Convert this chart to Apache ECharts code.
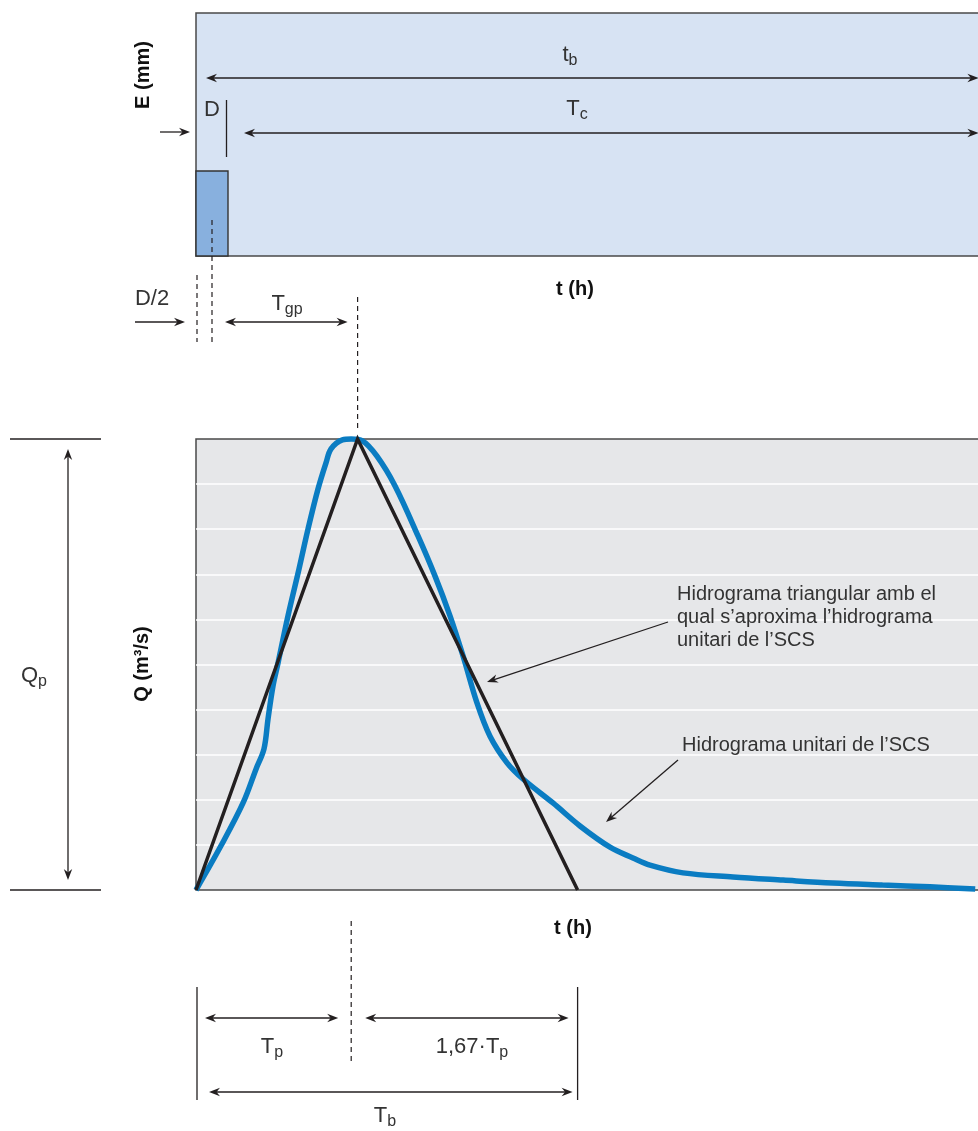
<!DOCTYPE html>
<html>
<head>
<meta charset="utf-8">
<script src="https://cdn.jsdelivr.net/npm/echarts@6/dist/echarts.min.js"></script>
<style>
  html, body { margin: 0; padding: 0; background: #ffffff; }
  #chart { width: 978px; height: 1131px; }
</style>
</head>
<body>
<div id="chart"></div>
<script>
// Hidrograma unitari de l'SCS i hidrograma triangular equivalent.
// Temps en unitats de Tp; cabal i precipitació en escala relativa (0-10).

// Hidrograma unitari adimensional de l'SCS
const scsT = [0, 0.156, 0.294, 0.375, 0.425, 0.45, 0.481, 0.5125, 0.575, 0.644, 0.70, 0.7625, 0.8125, 0.844, 0.915, 0.97,
              1.04, 1.131, 1.244, 1.3875, 1.494, 1.5875, 1.669, 1.756, 1.8375, 1.944, 2.044, 2.231, 2.40, 2.5875,
              2.731, 2.8375, 3.044, 3.356, 3.67, 3.98, 4.29, 4.5875, 4.87];
const scsQ = [0, 0.98, 1.93, 2.68, 3.13, 3.79, 4.52, 5.03, 6.08, 7.12, 8.00, 8.89, 9.47, 9.78, 9.98, 10,
              9.96, 9.62, 8.96, 7.85, 6.96, 6.08, 5.19, 4.15, 3.41, 2.82, 2.46, 1.93, 1.42, 0.95,
              0.71, 0.55, 0.38, 0.29, 0.22, 0.155, 0.11, 0.07, 0.02];

// Hidrograma triangular: inici, punta (Tp, Qp) i final (Tb)
const triT = [0, 1.01, 2.385];
const triQ = [0, 10, 0];

// Bloc de precipitació efectiva de durada D
const rainT = [0, 0.2];
const rainE = [3.5];

// Extrems de les fletxes de temps t_b i T_c
const tbSpan = [0.0625, 4.89];
const tcSpan = [0.3, 4.89];

const INK = '#231f20';
const TXT = '#333333';
const FONT = 'Liberation Sans, Arial, sans-serif';

function head(tip, u) {
  const L = 11, W = 4.2, N = 7.5;
  const px = -u[1], py = u[0];
  return {
    type: 'polygon',
    shape: { points: [
      [tip[0], tip[1]],
      [tip[0] - u[0] * L + px * W, tip[1] - u[1] * L + py * W],
      [tip[0] - u[0] * N, tip[1] - u[1] * N],
      [tip[0] - u[0] * L - px * W, tip[1] - u[1] * L - py * W]
    ] },
    style: { fill: INK }
  };
}
function arrow(p0, p1, both) {
  const dx = p1[0] - p0[0], dy = p1[1] - p0[1];
  const len = Math.hypot(dx, dy);
  const u = [dx / len, dy / len];
  const s = both ? 6 : 0;
  const out = [{
    type: 'line',
    shape: { x1: p0[0] + u[0] * s, y1: p0[1] + u[1] * s, x2: p1[0] - u[0] * 6, y2: p1[1] - u[1] * 6 },
    style: { stroke: INK, lineWidth: 1.3 }
  }, head(p1, u)];
  if (both) out.push(head(p0, [-u[0], -u[1]]));
  return out;
}
function seg(x1, y1, x2, y2, dashed, w) {
  return {
    type: 'line',
    shape: { x1: x1, y1: y1, x2: x2, y2: y2 },
    style: { stroke: INK, lineWidth: w || 1.2, lineDash: dashed ? [5, 4] : null }
  };
}
const rich = {
  m: { fontSize: 22, fontFamily: FONT, fill: TXT, color: TXT },
  s: { fontSize: 16, fontFamily: FONT, fill: TXT, color: TXT, padding: [11, 0, 0, 0] }
};
function sym(main, sub, x, y) {
  return {
    type: 'text',
    style: {
      text: '{m|' + main + '}' + (sub ? '{s|' + sub + '}' : ''),
      rich: rich, x: x, y: y, align: 'center', verticalAlign: 'middle'
    }
  };
}
function bold(text, x, y, rot) {
  return {
    type: 'text', x: x, y: y, rotation: rot || 0,
    style: { text: text, x: 0, y: 0, align: 'center', verticalAlign: 'middle',
             font: 'bold 20px ' + FONT, fill: '#111' }
  };
}
function plain(text, x, y) {
  return {
    type: 'text',
    style: { text: text, x: x, y: y, align: 'left', verticalAlign: 'top',
             font: '20px ' + FONT, fill: TXT, lineHeight: 23 }
  };
}

// Anotacions del hietograma (panell superior)
function renderTop(params, api) {
  const X = t => api.coord([t, 0])[0];
  const yTop = api.coord([0, 10])[1];
  const x0 = X(0);
  const xHalf = X(rainT[1] / 2);
  const xPeak = X(triT[1]);
  let c = [];
  c = c.concat(arrow([X(tbSpan[0]), yTop + 65], [X(tbSpan[1]), yTop + 65], true));
  c.push(sym('t', 'b', 570, yTop + 42));
  c = c.concat(arrow([X(tcSpan[0]), yTop + 120], [X(tcSpan[1]), yTop + 120], true));
  c.push(sym('T', 'c', 577, yTop + 96));
  c.push(seg(X(rainT[1]) - 1.5, yTop + 87, X(rainT[1]) - 1.5, yTop + 144, false, 1.3));
  c.push(sym('D', null, xHalf, yTop + 97));
  c = c.concat(arrow([160, yTop + 119], [190, yTop + 119], false));
  c.push(bold('E (mm)', 143, 75, Math.PI / 2));
  c.push(bold('t (h)', 575, 289));
  c.push(seg(xHalf, 220, xHalf, 342, true));
  c.push(seg(x0 + 1, 275, x0 + 1, 342, true));
  c.push(seg(xPeak, 297, xPeak, 432, true));
  c.push(sym('D/2', null, 152, 299));
  c = c.concat(arrow([135, 322], [185, 322], false));
  c = c.concat(arrow([xHalf + 13, 322], [xPeak - 10, 322], true));
  c.push(sym('T', 'gp', 287, 304));
  return { type: 'group', children: c };
}

// Anotacions de l'hidrograma (panell inferior)
function renderBottom(params, api) {
  const X = t => api.coord([t, 0])[0];
  const y0 = api.coord([0, 0])[1];
  const yP = api.coord([0, triQ[1]])[1];
  const x0 = X(0);
  const xTb = X(triT[2]);
  const xPk = X(scsT[scsQ.indexOf(Math.max.apply(null, scsQ))]);
  let c = [];
  c.push(seg(10, yP, 101, yP, false, 1.3));
  c.push(seg(10, y0, 101, y0, false, 1.3));
  c = c.concat(arrow([68, yP + 10], [68, y0 - 10], true));
  c.push(sym('Q', 'p', 34, 676));
  c.push(bold('Q (m³/s)', 142, 664, Math.PI / 2));
  c.push(bold('t (h)', 573, 928));
  c.push(seg(x0 + 1, y0 + 97, x0 + 1, y0 + 210, false, 1.3));
  c.push(seg(xTb, y0 + 97, xTb, y0 + 210, false, 1.3));
  c.push(seg(xPk, y0 + 31, xPk, y0 + 173, true));
  c = c.concat(arrow([x0 + 9, y0 + 128], [xPk - 13, y0 + 128], true));
  c = c.concat(arrow([xPk + 14, y0 + 128], [xTb - 9, y0 + 128], true));
  c = c.concat(arrow([x0 + 13, y0 + 202], [xTb - 5, y0 + 202], true));
  c.push(sym('T', 'p', 272, y0 + 157));
  c.push(sym('1,67·T', 'p', 472, y0 + 157));
  c.push(sym('T', 'b', 385, y0 + 226));
  c.push(plain('Hidrograma triangular amb el\nqual s’aproxima l’hidrograma\nunitari de l’SCS', 677, 583));
  c = c.concat(arrow([668, 622], [487, 682], false));
  c.push(plain('Hidrograma unitari de l’SCS', 682, 734));
  c = c.concat(arrow([678, 760], [606, 822], false));
  return { type: 'group', children: c };
}

const chart = echarts.init(document.getElementById('chart'), null, { renderer: 'canvas' });

const hidden = { show: false };
chart.setOption({
  animation: false,
  backgroundColor: '#ffffff',
  grid: [
    { left: 196, top: 13, width: 800, height: 243, show: true, backgroundColor: '#d7e3f3',
      borderColor: '#4a4a4a', borderWidth: 1.5, containLabel: false, outerBoundsMode: 'none' },
    { left: 196, top: 439, width: 800, height: 451, show: true, backgroundColor: '#e6e7e9',
      borderColor: '#4a4a4a', borderWidth: 1.5, containLabel: false, outerBoundsMode: 'none' }
  ],
  xAxis: [
    { type: 'value', gridIndex: 0, min: 0, max: 5, axisLine: hidden, axisTick: hidden, axisLabel: hidden, splitLine: hidden },
    { type: 'value', gridIndex: 1, min: 0, max: 5, axisLine: hidden, axisTick: hidden, axisLabel: hidden, splitLine: hidden }
  ],
  yAxis: [
    { type: 'value', gridIndex: 0, min: 0, max: 10, axisLine: hidden, axisTick: hidden, axisLabel: hidden, splitLine: hidden },
    { type: 'value', gridIndex: 1, min: 0, max: 10, interval: 1, axisLine: hidden, axisTick: hidden, axisLabel: hidden,
      splitLine: { show: true, showMinLine: false, showMaxLine: false, lineStyle: { color: '#ffffff', width: 1.6 } } }
  ],
  series: [
    {
      name: 'Precipitació efectiva', type: 'custom', xAxisIndex: 0, yAxisIndex: 0,
      data: [[rainT[0], rainT[1], rainE[0]]],
      renderItem: function (params, api) {
        const p0 = api.coord([api.value(0), api.value(2)]);
        const p1 = api.coord([api.value(1), 0]);
        return { type: 'rect', shape: { x: p0[0], y: p0[1], width: p1[0] - p0[0], height: p1[1] - p0[1] },
                 style: { fill: '#88b0de', stroke: '#333', lineWidth: 1.4 } };
      }
    },
    {
      name: 'Hidrograma unitari de l’SCS', type: 'line', xAxisIndex: 1, yAxisIndex: 1,
      data: scsT.map((t, i) => [t, scsQ[i]]),
      smooth: 0.35, showSymbol: false, clip: false,
      lineStyle: { color: '#0a7cc2', width: 5.5 }, z: 3
    },
    {
      name: 'Hidrograma triangular', type: 'line', xAxisIndex: 1, yAxisIndex: 1,
      data: triT.map((t, i) => [t, triQ[i]]),
      showSymbol: false, clip: false,
      lineStyle: { color: INK, width: 3.5, join: 'miter' }, z: 4
    },
    {
      type: 'custom', xAxisIndex: 0, yAxisIndex: 0, data: [[0, 0]], clip: false, z: 6,
      renderItem: renderTop, silent: true
    },
    {
      type: 'custom', xAxisIndex: 1, yAxisIndex: 1, data: [[0, 0]], clip: false, z: 6,
      renderItem: renderBottom, silent: true
    }
  ]
});
</script>
</body>
</html>
